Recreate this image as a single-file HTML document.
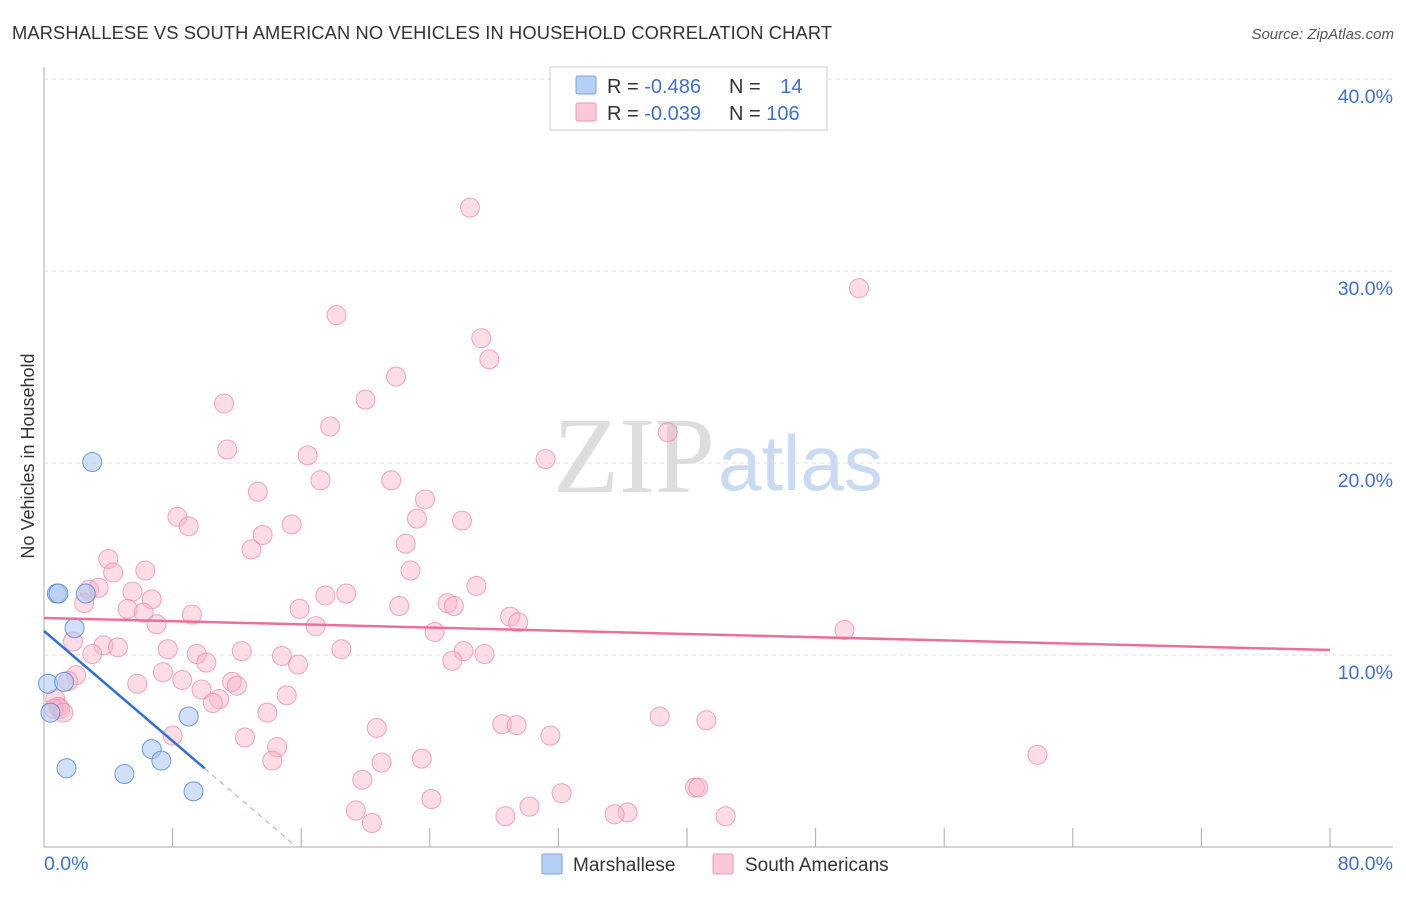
<!DOCTYPE html>
<html><head><meta charset="utf-8"><style>
body{margin:0;background:#fff;font-family:"Liberation Sans",sans-serif;}
svg text{font-family:"Liberation Sans",sans-serif;}
</style></head><body>
<svg width="1406" height="892" xmlns="http://www.w3.org/2000/svg">
<text x="12" y="39" font-size="18.3" fill="#333" textLength="820">MARSHALLESE VS SOUTH AMERICAN NO VEHICLES IN HOUSEHOLD CORRELATION CHART</text>
<text x="1394" y="39" font-size="15" fill="#555" font-style="italic" text-anchor="end">Source: ZipAtlas.com</text>
<g>
<text x="553" y="492" font-size="108" fill="#ddd" font-family="Liberation Serif,serif" style="font-family:'Liberation Serif',serif">ZIP</text>
<text x="718" y="490" font-size="78" fill="#c9daf2">atlas</text>
</g>
<g id="grid"></g>
<g id="axes"></g>
<text x="34" y="456" font-size="18" fill="#333" text-anchor="middle" transform="rotate(-90 34 456)">No Vehicles in Household</text>
<g id="pink"></g>
<g id="blue"></g>
<g id="lines"></g>
<g>
<rect x="550" y="67" width="277" height="63" fill="#fff" stroke="#ccc"/>
<rect x="576" y="76" width="20" height="18" fill="#b6d0f4" stroke="#7aa3e0" rx="2"/>
<rect x="576" y="103" width="20" height="18" fill="#fac8d6" stroke="#ef9ab5" rx="2"/>
<text x="607" y="93" font-size="20" fill="#333">R = <tspan fill="#3b72d0">-0.486</tspan></text>
<text x="729" y="93" font-size="20" fill="#333">N = <tspan fill="#3b72d0" dx="14">14</tspan></text>
<text x="607" y="120" font-size="20" fill="#333">R = <tspan fill="#3b72d0">-0.039</tspan></text>
<text x="729" y="120" font-size="20" fill="#333">N = <tspan fill="#3b72d0">106</tspan></text>
</g>
<g>
<rect x="542" y="854" width="20" height="20" fill="#b6d0f4" stroke="#7aa3e0" rx="2"/>
<text x="573" y="871" font-size="19" fill="#333">Marshallese</text>
<rect x="713" y="854" width="20" height="20" fill="#fac8d6" stroke="#ef9ab5" rx="2"/>
<text x="745" y="871" font-size="19" fill="#333">South Americans</text>
</g>
</svg>
<script>
const blueX=[0.8,0.9,3.0,2.6,1.9,0.25,1.25,0.4,9.0,6.7,7.3,1.4,5.0,9.3];
const blueY=[13.2,13.2,20.05,13.2,11.4,8.5,8.6,7.0,6.8,5.1,4.5,4.1,3.8,2.9];
const pinkX=[26.5,50.7,18.2,27.2,27.7,21.9,20.0,11.2,38.8,17.8,11.4,31.2,16.4,13.3,17.2,21.6,23.7,8.3,9.0,26.0,23.2,15.4,13.6,22.5,12.9,4.0,4.3,6.3,22.8,26.9,18.8,17.5,2.8,3.4,5.5,6.7,2.5,25.1,25.5,22.1,15.9,5.2,6.2,9.2,29.0,29.5,7.0,16.9,24.3,49.8,1.8,3.7,4.6,7.7,12.3,9.5,14.8,3.0,18.5,26.1,27.4,25.4,10.1,15.8,7.4,2.0,8.6,1.5,11.7,12.0,5.8,9.8,15.1,10.9,10.5,0.7,0.9,1.0,13.9,38.3,41.2,28.5,29.4,20.7,8.0,12.5,31.5,14.5,14.2,21.0,23.5,19.8,61.8,40.5,40.7,32.2,24.1,30.2,19.4,36.3,35.5,28.7,42.4,20.4,0.6,1.2];
const pinkY=[33.3,29.1,27.7,26.5,25.4,24.5,23.3,23.1,21.6,21.9,20.7,20.2,20.4,18.5,19.1,19.1,18.1,17.2,16.7,17.0,17.1,16.8,16.25,15.8,15.5,15.0,14.3,14.4,14.4,13.6,13.2,13.1,13.4,13.5,13.3,12.9,12.7,12.7,12.55,12.55,12.4,12.4,12.2,12.1,12.0,11.7,11.6,11.5,11.2,11.3,10.7,10.5,10.4,10.3,10.2,10.05,9.95,10.05,10.3,10.2,10.05,9.7,9.6,9.5,9.1,8.95,8.7,8.65,8.6,8.4,8.5,8.2,7.9,7.7,7.5,7.7,7.3,7.2,7.0,6.8,6.6,6.4,6.35,6.2,5.8,5.7,5.8,5.2,4.5,4.4,4.6,3.5,4.8,3.1,3.1,2.8,2.5,2.1,1.9,1.8,1.7,1.6,1.6,1.25,7.2,7.0];
const yTicks=[10,20,30,40];
const yTickLabels=["10.0%","20.0%","30.0%","40.0%"];
const blueTrend=[11.25,-0.716];
const pinkTrend=[11.93,-0.0209];
const NS="http://www.w3.org/2000/svg";
const X=v=>44+v*16.075, Y=v=>847-v*19.2;
function mk(tag,attrs,parent){const e=document.createElementNS(NS,tag);for(const k in attrs)e.setAttribute(k,attrs[k]);document.getElementById(parent).appendChild(e);return e;}
yTicks.forEach((t,i)=>{
 const l=mk('line',{x1:44,x2:1393,y1:Y(t),y2:Y(t),stroke:'#ddd','stroke-dasharray':'4,4'},'grid');
 
 
 const tx=mk('text',{x:1393,y:Y(t)+24,'font-size':19.5,fill:'#3b72d0','text-anchor':'end'},'grid');
 tx.textContent=yTickLabels[i];
 
 
});
mk('line',{x1:44,x2:44,y1:67,y2:847,stroke:'#aaa'},'axes');
mk('line',{x1:44,x2:1393,y1:847,y2:847,stroke:'#aaa'},'axes');
for(let i=1;i<=10;i++){const x=X(i*8);mk('line',{x1:x,x2:x,y1:828,y2:847,stroke:'#aaa'},'axes');}
let t0=mk('text',{x:44,y:870,'font-size':19.5,fill:'#3b72d0'},'axes');t0.textContent='0.0%';


let t1=mk('text',{x:1393,y:870,'font-size':19.5,fill:'#3b72d0','text-anchor':'end'},'axes');t1.textContent='80.0%';


pinkX.forEach((x,i)=>{const c=mk('circle',{cx:X(x),cy:Y(pinkY[i]),r:9.5,fill:'rgba(248,180,200,0.45)',stroke:'rgba(235,130,165,0.7)','stroke-width':1},'pink');
 
 });
blueX.forEach((x,i)=>{const c=mk('circle',{cx:X(x),cy:Y(blueY[i]),r:9.5,fill:'rgba(170,200,240,0.55)',stroke:'rgba(80,130,210,0.8)','stroke-width':1},'blue');
 
 });
const bz=-blueTrend[0]/blueTrend[1];
let bl=mk('line',{x1:X(0),y1:Y(blueTrend[0]),x2:X(10),y2:Y(blueTrend[0]+blueTrend[1]*10),stroke:'#2f6fd6','stroke-width':2.5},'lines');


let bd=mk('line',{x1:X(10),y1:Y(blueTrend[0]+blueTrend[1]*10),x2:X(bz),y2:Y(0),stroke:'#a9b8d6','stroke-width':1.2,'stroke-dasharray':'5,5'},'lines');


let pl=mk('line',{x1:X(0),y1:Y(pinkTrend[0]),x2:X(80),y2:Y(pinkTrend[0]+pinkTrend[1]*80),stroke:'#e8709a','stroke-width':2.5},'lines');


</script>
</body></html>
